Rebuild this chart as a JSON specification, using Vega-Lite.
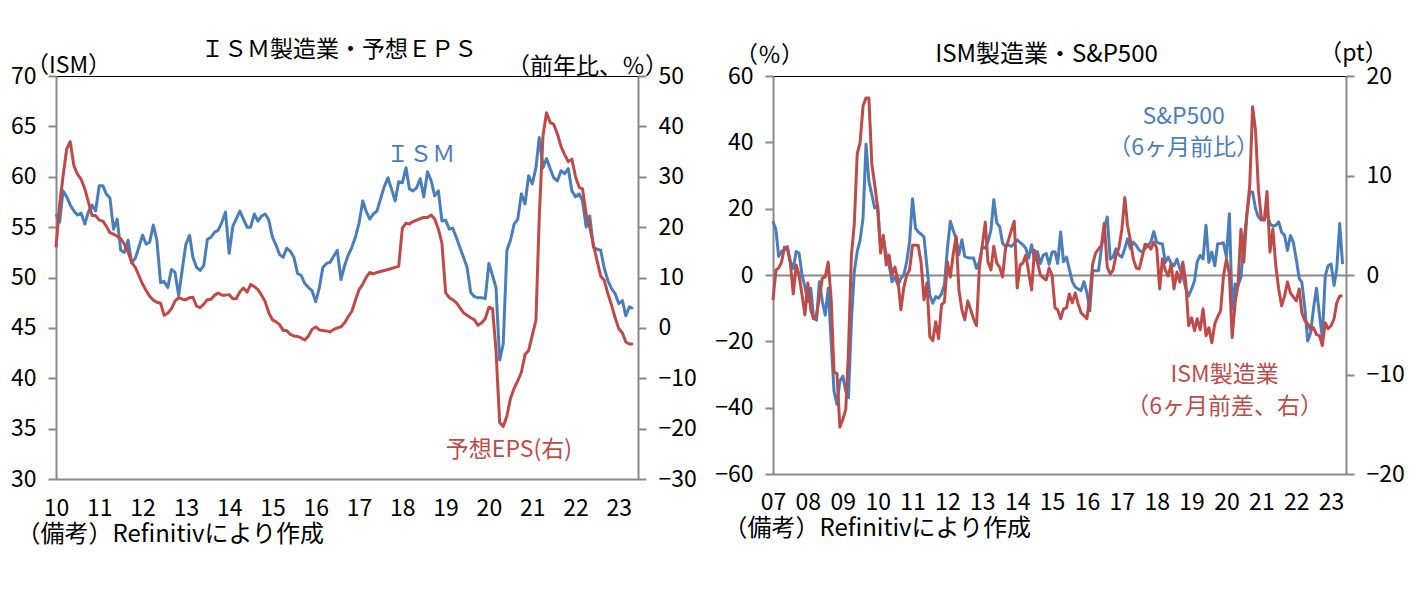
{
  "$schema": "https://vega.github.io/schema/vega-lite/v6.json",
  "background": "white",
  "padding": {"left": 9, "top": 38, "right": 5, "bottom": 5},
  "bounds": "flush",
  "spacing": 135,
  "config": {
    "font": "Noto Sans CJK JP",
    "view": {"stroke": "#000000", "strokeWidth": 1},
    "axis": {"labelFontSize": 23, "labelColor": "#000000", "titleFontSize": 23, "titleFontWeight": "normal", "titleColor": "#000000", "domainColor": "#898989", "domainWidth": 2, "tickColor": "#898989", "tickWidth": 2, "grid": false},
    "title": {"fontSize": 23, "fontWeight": "normal", "color": "#000000", "frame": "group", "anchor": "middle", "baseline": "alphabetic"},
    "text": {"fontSize": 23}
  },
  "datasets": {
    "left": [
      {"date":"2010-01","ism":56.3,"eps":16.0},{"date":"2010-02","ism":55.5,"eps":24.5},{"date":"2010-03","ism":58.6,"eps":30.0},{"date":"2010-04","ism":58.0,"eps":35.5},{"date":"2010-05","ism":57.2,"eps":37.0},{"date":"2010-06","ism":56.6,"eps":32.2},{"date":"2010-07","ism":56.2,"eps":30.5},{"date":"2010-08","ism":56.4,"eps":29.5},{"date":"2010-09","ism":55.3,"eps":27.6},{"date":"2010-10","ism":56.5,"eps":25.0},{"date":"2010-11","ism":57.2,"eps":22.3},{"date":"2010-12","ism":56.6,"eps":22.3},
      {"date":"2011-01","ism":59.1,"eps":21.4},{"date":"2011-02","ism":59.1,"eps":21.2},{"date":"2011-03","ism":58.3,"eps":20.2},{"date":"2011-04","ism":57.9,"eps":18.9},{"date":"2011-05","ism":54.8,"eps":18.6},{"date":"2011-06","ism":55.8,"eps":18.2},{"date":"2011-07","ism":52.7,"eps":17.7},{"date":"2011-08","ism":52.5,"eps":16.6},{"date":"2011-09","ism":53.7,"eps":15.1},{"date":"2011-10","ism":51.5,"eps":13.0},{"date":"2011-11","ism":51.9,"eps":12.0},{"date":"2011-12","ism":53.0,"eps":10.4},
      {"date":"2012-01","ism":54.2,"eps":8.7},{"date":"2012-02","ism":53.3,"eps":7.4},{"date":"2012-03","ism":53.5,"eps":6.3},{"date":"2012-04","ism":55.2,"eps":5.5},{"date":"2012-05","ism":53.7,"eps":5.1},{"date":"2012-06","ism":49.5,"eps":4.9},{"date":"2012-07","ism":49.6,"eps":2.5},{"date":"2012-08","ism":49.0,"eps":2.9},{"date":"2012-09","ism":50.8,"eps":3.8},{"date":"2012-10","ism":50.5,"eps":5.3},{"date":"2012-11","ism":48.2,"eps":6.0},{"date":"2012-12","ism":50.8,"eps":5.7},
      {"date":"2013-01","ism":53.3,"eps":5.6},{"date":"2013-02","ism":54.2,"eps":6.0},{"date":"2013-03","ism":52.0,"eps":6.1},{"date":"2013-04","ism":51.0,"eps":4.3},{"date":"2013-05","ism":50.7,"eps":4.0},{"date":"2013-06","ism":51.2,"eps":4.7},{"date":"2013-07","ism":53.8,"eps":5.6},{"date":"2013-08","ism":54.0,"eps":5.7},{"date":"2013-09","ism":54.5,"eps":6.5},{"date":"2013-10","ism":54.7,"eps":6.9},{"date":"2013-11","ism":55.5,"eps":6.5},{"date":"2013-12","ism":56.5,"eps":6.5},
      {"date":"2014-01","ism":52.4,"eps":6.6},{"date":"2014-02","ism":55.1,"eps":5.8},{"date":"2014-03","ism":55.8,"eps":5.8},{"date":"2014-04","ism":56.6,"eps":7.1},{"date":"2014-05","ism":55.8,"eps":7.9},{"date":"2014-06","ism":55.0,"eps":7.1},{"date":"2014-07","ism":55.0,"eps":8.6},{"date":"2014-08","ism":56.3,"eps":8.2},{"date":"2014-09","ism":55.6,"eps":7.6},{"date":"2014-10","ism":56.1,"eps":6.5},{"date":"2014-11","ism":56.3,"eps":5.2},{"date":"2014-12","ism":55.7,"eps":3.0},
      {"date":"2015-01","ism":54.0,"eps":1.6},{"date":"2015-02","ism":53.2,"eps":1.2},{"date":"2015-03","ism":52.3,"eps":0.7},{"date":"2015-04","ism":52.0,"eps":-0.5},{"date":"2015-05","ism":52.9,"eps":-0.5},{"date":"2015-06","ism":52.6,"eps":-1.3},{"date":"2015-07","ism":52.0,"eps":-1.6},{"date":"2015-08","ism":50.4,"eps":-1.7},{"date":"2015-09","ism":50.2,"eps":-2.0},{"date":"2015-10","ism":49.4,"eps":-2.4},{"date":"2015-11","ism":49.0,"eps":-1.6},{"date":"2015-12","ism":48.7,"eps":-0.3},
      {"date":"2016-01","ism":47.6,"eps":0.2},{"date":"2016-02","ism":49.0,"eps":-0.4},{"date":"2016-03","ism":51.0,"eps":-0.5},{"date":"2016-04","ism":51.4,"eps":-0.6},{"date":"2016-05","ism":51.5,"eps":-0.8},{"date":"2016-06","ism":52.1,"eps":-0.3},{"date":"2016-07","ism":52.7,"eps":0.0},{"date":"2016-08","ism":49.8,"eps":0.2},{"date":"2016-09","ism":51.2,"eps":1.0},{"date":"2016-10","ism":52.2,"eps":2.2},{"date":"2016-11","ism":53.0,"eps":3.3},{"date":"2016-12","ism":54.0,"eps":5.5},
      {"date":"2017-01","ism":55.4,"eps":7.6},{"date":"2017-02","ism":57.6,"eps":8.7},{"date":"2017-03","ism":56.6,"eps":10.0},{"date":"2017-04","ism":55.8,"eps":11.0},{"date":"2017-05","ism":56.3,"eps":10.7},{"date":"2017-06","ism":56.6,"eps":11.0},{"date":"2017-07","ism":57.8,"eps":11.2},{"date":"2017-08","ism":59.0,"eps":11.4},{"date":"2017-09","ism":59.9,"eps":11.6},{"date":"2017-10","ism":58.8,"eps":11.8},{"date":"2017-11","ism":57.6,"eps":12.0},{"date":"2017-12","ism":59.5,"eps":12.2},
      {"date":"2018-01","ism":59.4,"eps":19.8},{"date":"2018-02","ism":60.9,"eps":20.8},{"date":"2018-03","ism":58.8,"eps":20.6},{"date":"2018-04","ism":58.6,"eps":21.1},{"date":"2018-05","ism":58.9,"eps":21.4},{"date":"2018-06","ism":59.8,"eps":21.7},{"date":"2018-07","ism":58.0,"eps":21.9},{"date":"2018-08","ism":60.5,"eps":21.9},{"date":"2018-09","ism":59.6,"eps":22.4},{"date":"2018-10","ism":58.1,"eps":21.6},{"date":"2018-11","ism":58.6,"eps":19.6},{"date":"2018-12","ism":55.6,"eps":16.8},
      {"date":"2019-01","ism":55.7,"eps":7.0},{"date":"2019-02","ism":54.8,"eps":6.0},{"date":"2019-03","ism":54.9,"eps":5.6},{"date":"2019-04","ism":54.0,"eps":5.0},{"date":"2019-05","ism":53.0,"eps":4.0},{"date":"2019-06","ism":52.0,"eps":3.0},{"date":"2019-07","ism":51.0,"eps":2.5},{"date":"2019-08","ism":48.5,"eps":2.0},{"date":"2019-09","ism":48.1,"eps":1.6},{"date":"2019-10","ism":48.0,"eps":0.5},{"date":"2019-11","ism":48.0,"eps":1.0},{"date":"2019-12","ism":47.9,"eps":1.8},
      {"date":"2020-01","ism":51.4,"eps":4.1},{"date":"2020-02","ism":50.2,"eps":3.8},{"date":"2020-03","ism":49.0,"eps":-4.5},{"date":"2020-04","ism":41.8,"eps":-18.8},{"date":"2020-05","ism":43.4,"eps":-19.6},{"date":"2020-06","ism":52.7,"eps":-17.5},{"date":"2020-07","ism":53.7,"eps":-14.0},{"date":"2020-08","ism":55.3,"eps":-12.0},{"date":"2020-09","ism":55.8,"eps":-10.5},{"date":"2020-10","ism":58.3,"eps":-8.8},{"date":"2020-11","ism":57.3,"eps":-5.3},{"date":"2020-12","ism":60.1,"eps":-4.5},
      {"date":"2021-01","ism":59.3,"eps":-1.5},{"date":"2021-02","ism":60.9,"eps":1.5},{"date":"2021-03","ism":63.9,"eps":22.0},{"date":"2021-04","ism":60.9,"eps":38.0},{"date":"2021-05","ism":61.8,"eps":42.7},{"date":"2021-06","ism":60.8,"eps":40.8},{"date":"2021-07","ism":59.9,"eps":40.4},{"date":"2021-08","ism":59.6,"eps":38.5},{"date":"2021-09","ism":60.6,"eps":36.0},{"date":"2021-10","ism":60.3,"eps":34.4},{"date":"2021-11","ism":60.8,"eps":33.0},{"date":"2021-12","ism":58.6,"eps":33.5},
      {"date":"2022-01","ism":58.0,"eps":30.0},{"date":"2022-02","ism":58.3,"eps":27.9},{"date":"2022-03","ism":57.6,"eps":27.6},{"date":"2022-04","ism":55.0,"eps":22.5},{"date":"2022-05","ism":56.1,"eps":20.0},{"date":"2022-06","ism":53.0,"eps":16.5},{"date":"2022-07","ism":52.8,"eps":13.4},{"date":"2022-08","ism":52.7,"eps":10.3},{"date":"2022-09","ism":50.9,"eps":9.4},{"date":"2022-10","ism":49.7,"eps":6.8},{"date":"2022-11","ism":48.9,"eps":4.5},{"date":"2022-12","ism":48.4,"eps":2.0},
      {"date":"2023-01","ism":47.4,"eps":-0.2},{"date":"2023-02","ism":47.7,"eps":-1.0},{"date":"2023-03","ism":46.2,"eps":-2.8},{"date":"2023-04","ism":47.1,"eps":-3.2},{"date":"2023-05","ism":46.9,"eps":-3.2}
    ],
    "right": [
      {"date":"2007-01","sp":16.2,"ism":-2.5},{"date":"2007-02","sp":13.6,"ism":0.5},{"date":"2007-03","sp":5.6,"ism":0.7},{"date":"2007-04","sp":7.1,"ism":1.3},{"date":"2007-05","sp":7.5,"ism":2.8},{"date":"2007-06","sp":8.6,"ism":2.6},{"date":"2007-07","sp":4.0,"ism":1.3},{"date":"2007-08","sp":2.0,"ism":-1.9},{"date":"2007-09","sp":7.1,"ism":1.0},{"date":"2007-10","sp":6.6,"ism":0.0},{"date":"2007-11","sp":0.0,"ism":-2.0},{"date":"2007-12","sp":-3.5,"ism":-4.0},
      {"date":"2008-01","sp":-8.1,"ism":-0.8},{"date":"2008-02","sp":-4.0,"ism":-3.5},{"date":"2008-03","sp":-13.0,"ism":-4.4},{"date":"2008-04","sp":-13.6,"ism":-4.0},{"date":"2008-05","sp":-2.0,"ism":-2.2},{"date":"2008-06","sp":-8.0,"ism":-0.3},{"date":"2008-07","sp":-12.1,"ism":-0.2},{"date":"2008-08","sp":-4.0,"ism":1.3},{"date":"2008-09","sp":-20.0,"ism":-2.4},{"date":"2008-10","sp":-35.0,"ism":-9.8},{"date":"2008-11","sp":-39.0,"ism":-9.9},{"date":"2008-12","sp":-32.0,"ism":-15.3},
      {"date":"2009-01","sp":-30.5,"ism":-14.5},{"date":"2009-02","sp":-35.0,"ism":-13.5},{"date":"2009-03","sp":-37.0,"ism":-7.7},{"date":"2009-04","sp":-14.0,"ism":2.0},{"date":"2009-05","sp":1.0,"ism":5.1},{"date":"2009-06","sp":7.1,"ism":12.2},{"date":"2009-07","sp":10.5,"ism":13.3},{"date":"2009-08","sp":17.2,"ism":17.0},{"date":"2009-09","sp":39.4,"ism":17.8},{"date":"2009-10","sp":28.3,"ism":17.8},{"date":"2009-11","sp":24.2,"ism":11.1},{"date":"2009-12","sp":20.2,"ism":9.1},
      {"date":"2010-01","sp":21.0,"ism":6.7},{"date":"2010-02","sp":8.1,"ism":2.2},{"date":"2010-03","sp":11.0,"ism":4.0},{"date":"2010-04","sp":6.1,"ism":1.0},{"date":"2010-05","sp":3.0,"ism":2.0},{"date":"2010-06","sp":-2.0,"ism":0.0},{"date":"2010-07","sp":-0.5,"ism":0.8},{"date":"2010-08","sp":-3.0,"ism":-0.5},{"date":"2010-09","sp":-1.0,"ism":-3.5},{"date":"2010-10","sp":0.0,"ism":-1.3},{"date":"2010-11","sp":4.0,"ism":0.0},{"date":"2010-12","sp":10.0,"ism":0.5},
      {"date":"2011-01","sp":23.0,"ism":3.0},{"date":"2011-02","sp":14.1,"ism":3.0},{"date":"2011-03","sp":13.0,"ism":3.0},{"date":"2011-04","sp":12.3,"ism":1.2},{"date":"2011-05","sp":11.5,"ism":-2.5},{"date":"2011-06","sp":2.5,"ism":-0.8},{"date":"2011-07","sp":-6.0,"ism":-6.2},{"date":"2011-08","sp":-8.5,"ism":-6.6},{"date":"2011-09","sp":-6.5,"ism":-4.7},{"date":"2011-10","sp":-7.0,"ism":-6.4},{"date":"2011-11","sp":-5.6,"ism":-3.0},{"date":"2011-12","sp":-3.0,"ism":-2.7},
      {"date":"2012-01","sp":8.0,"ism":1.3},{"date":"2012-02","sp":16.2,"ism":-0.2},{"date":"2012-03","sp":13.5,"ism":2.0},{"date":"2012-04","sp":11.0,"ism":3.9},{"date":"2012-05","sp":6.1,"ism":-1.5},{"date":"2012-06","sp":10.6,"ism":-3.5},{"date":"2012-07","sp":5.6,"ism":-4.5},{"date":"2012-08","sp":5.2,"ism":-2.6},{"date":"2012-09","sp":5.1,"ism":-3.5},{"date":"2012-10","sp":5.1,"ism":-4.4},{"date":"2012-11","sp":2.0,"ism":-5.1},{"date":"2012-12","sp":4.0,"ism":0.7},
      {"date":"2013-01","sp":8.6,"ism":3.0},{"date":"2013-02","sp":8.1,"ism":5.3},{"date":"2013-03","sp":10.0,"ism":1.3},{"date":"2013-04","sp":13.5,"ism":0.5},{"date":"2013-05","sp":22.7,"ism":2.9},{"date":"2013-06","sp":15.7,"ism":1.2},{"date":"2013-07","sp":14.6,"ism":0.8},{"date":"2013-08","sp":9.6,"ism":-0.2},{"date":"2013-09","sp":8.6,"ism":2.7},{"date":"2013-10","sp":9.1,"ism":3.5},{"date":"2013-11","sp":8.6,"ism":4.5},{"date":"2013-12","sp":9.5,"ism":5.4},
      {"date":"2014-01","sp":10.6,"ism":-1.3},{"date":"2014-02","sp":9.8,"ism":1.0},{"date":"2014-03","sp":9.1,"ism":1.2},{"date":"2014-04","sp":8.1,"ism":2.0},{"date":"2014-05","sp":5.1,"ism":0.3},{"date":"2014-06","sp":9.1,"ism":-1.5},{"date":"2014-07","sp":4.5,"ism":2.5},{"date":"2014-08","sp":7.1,"ism":1.3},{"date":"2014-09","sp":3.5,"ism":0.0},{"date":"2014-10","sp":6.0,"ism":-0.3},{"date":"2014-11","sp":6.5,"ism":-0.5},{"date":"2014-12","sp":3.2,"ism":0.7},
      {"date":"2015-01","sp":6.9,"ism":0.0},{"date":"2015-02","sp":7.0,"ism":-3.3},{"date":"2015-03","sp":3.5,"ism":-3.5},{"date":"2015-04","sp":13.0,"ism":-4.4},{"date":"2015-05","sp":4.0,"ism":-3.4},{"date":"2015-06","sp":5.4,"ism":-3.3},{"date":"2015-07","sp":1.8,"ism":-1.9},{"date":"2015-08","sp":-2.0,"ism":-2.8},{"date":"2015-09","sp":-3.6,"ism":-1.8},{"date":"2015-10","sp":-4.2,"ism":-2.9},{"date":"2015-11","sp":-4.7,"ism":-3.8},{"date":"2015-12","sp":-2.0,"ism":-4.1},
      {"date":"2016-01","sp":-5.3,"ism":-4.4},{"date":"2016-02","sp":-10.8,"ism":-2.1},{"date":"2016-03","sp":1.3,"ism":1.1},{"date":"2016-04","sp":1.3,"ism":2.2},{"date":"2016-05","sp":1.3,"ism":2.6},{"date":"2016-06","sp":8.0,"ism":3.0},{"date":"2016-07","sp":13.9,"ism":5.2},{"date":"2016-08","sp":17.5,"ism":0.8},{"date":"2016-09","sp":4.8,"ism":0.1},{"date":"2016-10","sp":5.5,"ism":0.5},{"date":"2016-11","sp":7.9,"ism":2.0},{"date":"2016-12","sp":6.0,"ism":2.7},
      {"date":"2017-01","sp":5.4,"ism":4.6},{"date":"2017-02","sp":8.0,"ism":7.8},{"date":"2017-03","sp":10.9,"ism":5.0},{"date":"2017-04","sp":7.9,"ism":3.5},{"date":"2017-05","sp":9.9,"ism":1.6},{"date":"2017-06","sp":8.9,"ism":0.7},{"date":"2017-07","sp":7.5,"ism":0.6},{"date":"2017-08","sp":6.9,"ism":1.8},{"date":"2017-09","sp":7.9,"ism":3.1},{"date":"2017-10","sp":8.9,"ism":3.0},{"date":"2017-11","sp":10.0,"ism":2.6},{"date":"2017-12","sp":13.1,"ism":3.3},
      {"date":"2018-01","sp":9.9,"ism":2.7},{"date":"2018-02","sp":9.5,"ism":-1.4},{"date":"2018-03","sp":9.4,"ism":1.6},{"date":"2018-04","sp":3.8,"ism":0.5},{"date":"2018-05","sp":5.4,"ism":-0.1},{"date":"2018-06","sp":3.5,"ism":1.1},{"date":"2018-07","sp":2.8,"ism":-1.4},{"date":"2018-08","sp":4.8,"ism":0.3},{"date":"2018-09","sp":1.8,"ism":-0.7},{"date":"2018-10","sp":-0.2,"ism":1.3},{"date":"2018-11","sp":-4.0,"ism":-0.7},{"date":"2018-12","sp":-6.3,"ism":-5.1},
      {"date":"2019-01","sp":-4.2,"ism":-4.3},{"date":"2019-02","sp":-1.7,"ism":-5.6},{"date":"2019-03","sp":4.0,"ism":-4.4},{"date":"2019-04","sp":5.9,"ism":-5.5},{"date":"2019-05","sp":4.8,"ism":-3.4},{"date":"2019-06","sp":15.0,"ism":-6.1},{"date":"2019-07","sp":3.8,"ism":-5.3},{"date":"2019-08","sp":6.9,"ism":-6.8},{"date":"2019-09","sp":2.8,"ism":-4.9},{"date":"2019-10","sp":9.4,"ism":-4.2},{"date":"2019-11","sp":9.5,"ism":-3.6},{"date":"2019-12","sp":9.7,"ism":-0.1},
      {"date":"2020-01","sp":5.4,"ism":1.6},{"date":"2020-02","sp":18.5,"ism":0.1},{"date":"2020-03","sp":-10.3,"ism":-6.3},{"date":"2020-04","sp":-2.7,"ism":-2.8},{"date":"2020-05","sp":-3.2,"ism":-1.0},{"date":"2020-06","sp":-0.7,"ism":4.6},{"date":"2020-07","sp":9.9,"ism":1.3},{"date":"2020-08","sp":18.0,"ism":6.0},{"date":"2020-09","sp":25.0,"ism":9.0},{"date":"2020-10","sp":25.0,"ism":16.9},{"date":"2020-11","sp":20.0,"ism":14.5},{"date":"2020-12","sp":17.5,"ism":8.5},
      {"date":"2021-01","sp":16.5,"ism":5.7},{"date":"2021-02","sp":17.0,"ism":5.5},{"date":"2021-03","sp":18.5,"ism":8.4},{"date":"2021-04","sp":15.5,"ism":2.3},{"date":"2021-05","sp":14.7,"ism":4.6},{"date":"2021-06","sp":15.0,"ism":0.9},{"date":"2021-07","sp":16.0,"ism":-1.4},{"date":"2021-08","sp":12.9,"ism":-3.1},{"date":"2021-09","sp":11.9,"ism":-2.1},{"date":"2021-10","sp":7.4,"ism":-0.7},{"date":"2021-11","sp":11.9,"ism":-1.8},{"date":"2021-12","sp":9.9,"ism":-2.2},
      {"date":"2022-01","sp":4.8,"ism":-2.6},{"date":"2022-02","sp":-1.0,"ism":-1.4},{"date":"2022-03","sp":-2.2,"ism":-3.8},{"date":"2022-04","sp":-10.0,"ism":-4.6},{"date":"2022-05","sp":-19.9,"ism":-4.9},{"date":"2022-06","sp":-17.4,"ism":-5.5},{"date":"2022-07","sp":-10.0,"ism":-5.3},{"date":"2022-08","sp":-4.0,"ism":-6.0},{"date":"2022-09","sp":-12.0,"ism":-6.1},{"date":"2022-10","sp":-18.9,"ism":-7.1},{"date":"2022-11","sp":-0.2,"ism":-4.8},{"date":"2022-12","sp":2.8,"ism":-5.4},
      {"date":"2023-01","sp":3.3,"ism":-5.1},{"date":"2023-02","sp":-3.2,"ism":-4.4},{"date":"2023-03","sp":1.8,"ism":-2.8},{"date":"2023-04","sp":15.5,"ism":-2.1},{"date":"2023-05","sp":3.3,"ism":-2.1}
    ]
  },
  "hconcat": [
    {
      "width": 582,
      "height": 403,
      "title": {"text": "ＩＳＭ製造業・予想ＥＰＳ", "dx": -8, "dy": 27, "offset": 19},
      "encoding": {
        "x": {
          "field": "date",
          "type": "temporal",
          "scale": {"domain": [{"year": 2010, "month": 1, "date": 1}, {"year": 2023, "month": 6, "date": 12}]},
          "axis": {"format": "%y", "tickCount": {"interval": "year", "step": 1}, "ticks": false, "labelFlush": false, "labelOverlap": false, "labelPadding": 18, "title": "（備考）Refinitivにより作成", "titleFontSize": 24, "titleAnchor": "start", "titleAlign": "left", "titleBaseline": "middle", "titleX": -40, "titleY": 55}
        }
      },
      "layer": [
        {
          "encoding": {
            "y": {"field": "ism", "type": "quantitative", "scale": {"domain": [30, 70], "nice": false, "zero": false},
              "axis": {"orient": "left", "values": [30, 35, 40, 45, 50, 55, 60, 65, 70], "tickSize": 8, "labelPadding": 12, "title": "（ISM）", "titleAngle": 0, "titleAlign": "center", "titleBaseline": "middle", "titleX": 12, "titleY": -11}}
          },
          "layer": [
            {"data": {"name": "left"}, "mark": {"type": "line", "color": "#4A7EBB", "strokeWidth": 3, "strokeJoin": "round"}},
            {"data": {"values": [{"date": "2018-06-05", "ism": 62.2, "label": "ＩＳＭ"}]}, "mark": {"type": "text", "color": "#4A7EBB", "align": "center", "baseline": "middle"}, "encoding": {"text": {"field": "label"}}}
          ]
        },
        {
          "encoding": {
            "y": {"field": "eps", "type": "quantitative", "scale": {"domain": [-30, 50], "nice": false, "zero": false},
              "axis": {"orient": "right", "values": [-30, -20, -10, 0, 10, 20, 30, 40, 50], "tickSize": 8, "labelPadding": 12, "title": "（前年比、％）", "titleAngle": 0, "titleAlign": "center", "titleBaseline": "middle", "titleX": -51, "titleY": -10}}
          },
          "layer": [
            {"data": {"name": "left"}, "mark": {"type": "line", "color": "#BF4B48", "strokeWidth": 3, "strokeJoin": "round"}},
            {"data": {"values": [{"date": "2020-06-18", "eps": -24.3, "label": "予想EPS(右)"}]}, "mark": {"type": "text", "color": "#BF4B48", "align": "center", "baseline": "middle"}, "encoding": {"text": {"field": "label"}}}
          ]
        }
      ],
      "resolve": {"scale": {"y": "independent"}, "axis": {"y": "independent"}}
    },
    {
      "width": 573,
      "height": 398,
      "title": {"text": "ISM製造業・S&P500", "fontSize": 24, "dx": -13, "dy": 40, "offset": 15},
      "encoding": {
        "x": {
          "field": "date",
          "type": "temporal",
          "scale": {"domain": [{"year": 2007, "month": 1, "date": 1}, {"year": 2023, "month": 6, "date": 6}]},
          "axis": {"format": "%y", "tickCount": {"interval": "year", "step": 1}, "ticks": false, "labelFlush": false, "labelOverlap": false, "labelPadding": 17, "title": "（備考）Refinitivにより作成", "titleFontSize": 24, "titleAnchor": "start", "titleAlign": "left", "titleBaseline": "middle", "titleX": -50, "titleY": 54}
        }
      },
      "layer": [
        {
          "encoding": {
            "y": {"field": "sp", "type": "quantitative", "scale": {"domain": [-60, 60], "nice": false, "zero": false},
              "axis": {"orient": "left", "values": [-60, -40, -20, 0, 20, 40, 60], "tickSize": 8, "labelPadding": 12, "grid": true, "gridColor": "#898989", "gridWidth": 2, "gridOpacity": {"condition": {"test": "datum.value === 0", "value": 1}, "value": 0}, "title": "（％）", "titleAngle": 0, "titleAlign": "center", "titleBaseline": "middle", "titleX": -4, "titleY": -21}}
          },
          "layer": [
            {"data": {"name": "right"}, "mark": {"type": "line", "color": "#4A7EBB", "strokeWidth": 3, "strokeJoin": "round"}},
            {"data": {"values": [{"date": "2018-10-10", "sp": 47.6, "label": "S&P500\n（6ヶ月前比）"}]}, "mark": {"type": "text", "color": "#4A7EBB", "align": "center", "baseline": "middle", "lineBreak": "\n", "lineHeight": 31}, "encoding": {"text": {"field": "label"}}}
          ]
        },
        {
          "encoding": {
            "y": {"field": "ism", "type": "quantitative", "scale": {"domain": [-20, 20], "nice": false, "zero": false},
              "axis": {"orient": "right", "values": [-20, -10, 0, 10, 20], "tickSize": 8, "labelPadding": 12, "title": "（pt）", "titleAngle": 0, "titleAlign": "center", "titleBaseline": "middle", "titleX": 7, "titleY": -23}}
          },
          "layer": [
            {"data": {"name": "right"}, "mark": {"type": "line", "color": "#BF4B48", "strokeWidth": 3, "strokeJoin": "round"}},
            {"data": {"values": [{"date": "2019-12-13", "ism": -10.0, "label": "ISM製造業\n（6ヶ月前差、右）"}]}, "mark": {"type": "text", "color": "#BF4B48", "align": "center", "baseline": "middle", "lineBreak": "\n", "lineHeight": 32}, "encoding": {"text": {"field": "label"}}}
          ]
        }
      ],
      "resolve": {"scale": {"y": "independent"}, "axis": {"y": "independent"}}
    }
  ]
}
